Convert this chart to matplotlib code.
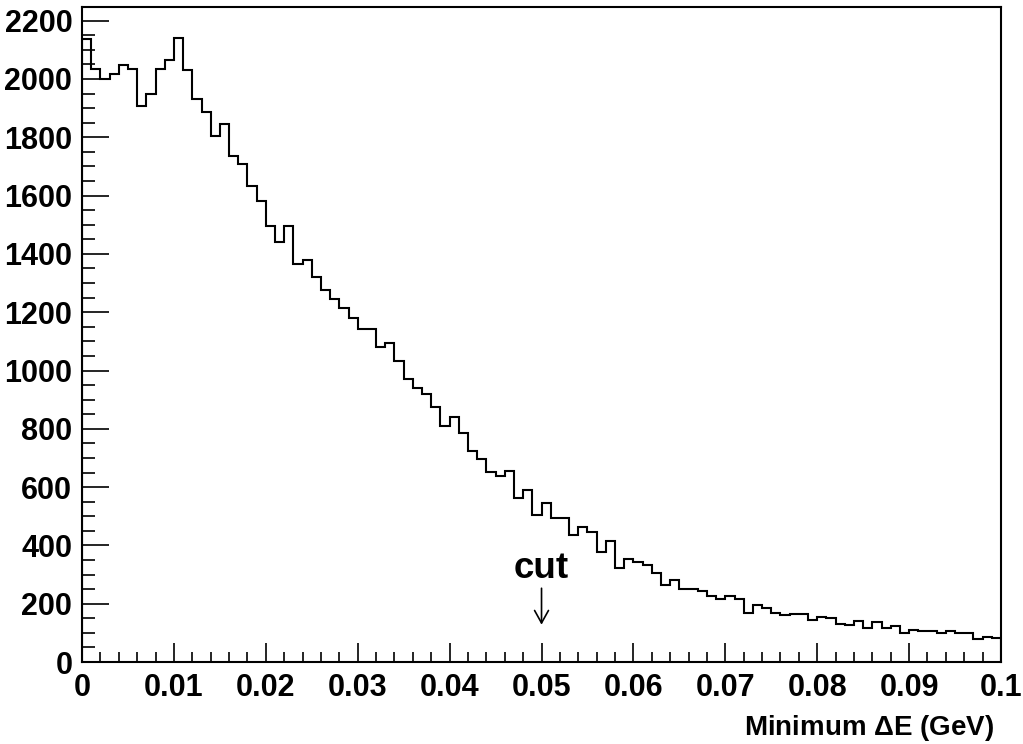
import matplotlib
matplotlib.use("Agg")
import matplotlib.pyplot as plt
import numpy as np

plt.rcParams['font.family'] = ['Liberation Sans', 'DejaVu Sans']
plt.rcParams['font.weight'] = 'bold'
plt.rcParams['mathtext.default'] = 'regular'

# Data : entries per bin, 100 bins from 0 to 0.1 GeV
counts = [2137, 2034, 2000, 2017, 2048, 2034, 1909, 1947, 2034, 2065,
          2140, 2031, 1933, 1886, 1805, 1845, 1735, 1707, 1634, 1583,
          1497, 1441, 1496, 1364, 1378, 1320, 1275, 1247, 1216, 1179,
          1142, 1144, 1081, 1093, 1033, 972, 941, 918, 874, 810,
          842, 786, 724, 695, 653, 638, 655, 564, 589, 504,
          544, 495, 495, 434, 463, 446, 378, 414, 321, 355,
          344, 333, 306, 265, 283, 249, 249, 243, 226, 215,
          228, 217, 169, 194, 185, 169, 160, 164, 164, 143,
          154, 151, 130, 126, 139, 117, 138, 118, 123, 100,
          110, 108, 108, 100, 107, 98, 100, 80, 86, 83]
x_min = 0.0
x_max = 0.1
x_ticks = [0, 0.01, 0.02, 0.03, 0.04, 0.05, 0.06, 0.07, 0.08, 0.09, 0.1]
x_tick_labels = ['0', '0.01', '0.02', '0.03', '0.04', '0.05', '0.06', '0.07', '0.08', '0.09', '0.1']
y_ticks = [0, 200, 400, 600, 800, 1000, 1200, 1400, 1600, 1800, 2000, 2200]
cut_value = 0.05

edges = np.linspace(x_min, x_max, len(counts) + 1)

fig = plt.figure(figsize=(10.23, 7.44), dpi=100)
ax = fig.add_axes([0.0802, 0.1102, 0.8983, 0.8804])

ax.stairs(counts, edges, color='black', linewidth=1.5)

ax.set_xlim(x_min, x_max)
ax.set_ylim(0, max(counts) * 1.05)

# ticks
ax.set_xticks(x_ticks)
ax.set_xticklabels(x_tick_labels)
ax.set_yticks(y_ticks)
ax.set_yticklabels([str(v) for v in y_ticks])
ax.set_xticks(np.arange(0, 0.1001, 0.002), minor=True)
ax.set_yticks(np.arange(0, 2250, 50), minor=True)

ax.tick_params(axis='both', which='both', direction='in', top=False, right=False,
               width=1.2, labelsize=22)
ax.tick_params(axis='y', which='major', length=19.5, pad=7)
ax.tick_params(axis='y', which='minor', length=9.5)
ax.tick_params(axis='x', which='major', length=13.5, pad=8)
ax.tick_params(axis='x', which='minor', length=7)

for s in ax.spines.values():
    s.set_linewidth(1.5)

# axis title (right aligned under the axis, like ROOT)
ax.set_xlabel('Minimum $\\Delta$E (GeV)', fontsize=20, fontweight='bold', loc='right')
ax.xaxis.set_label_coords(0.9925, -0.111)
ax.xaxis.label.set_va('baseline')

# cut marker
ax.text(cut_value, 287, 'cut', fontsize=26.5, fontweight='bold', ha='center', va='baseline')
ax.annotate('', xy=(cut_value, 128), xytext=(cut_value, 253),
            arrowprops=dict(arrowstyle='->,head_length=0.9,head_width=0.5', color='black',
                            lw=1.2, shrinkA=0, shrinkB=0))

fig.savefig('out.png', dpi=100)
